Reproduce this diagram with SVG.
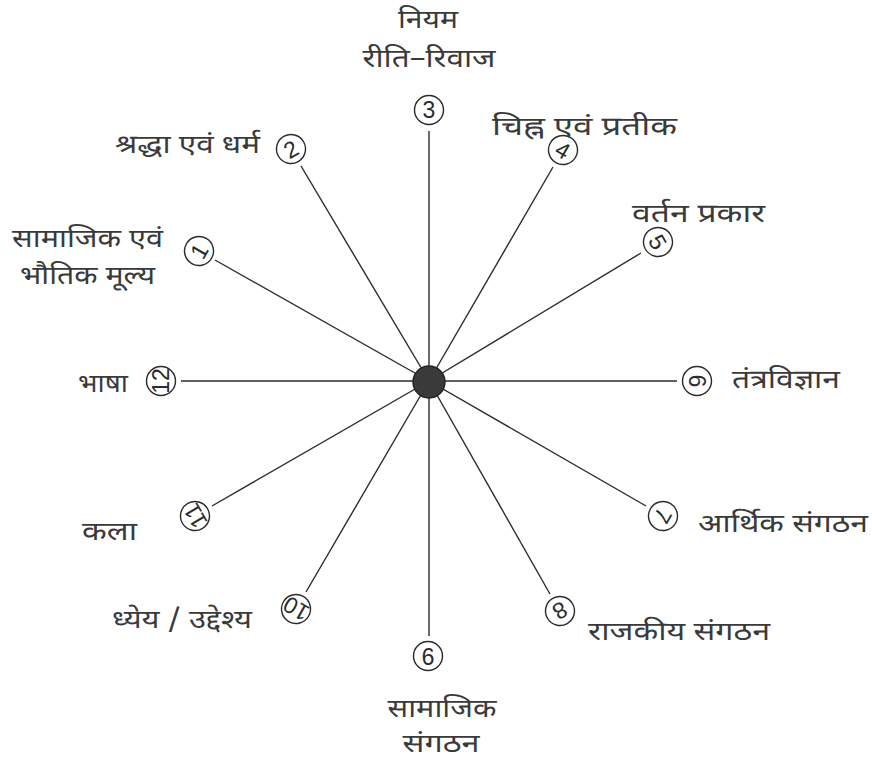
<svg xmlns="http://www.w3.org/2000/svg" width="872" height="766" viewBox="0 0 872 766">
<style>
.bg{fill:#ffffff}
.spoke{stroke:#2b2b2b;stroke-width:1.4;fill:none}
.num circle{fill:#ffffff;stroke:#2b2b2b;stroke-width:1.4}
.num text{font-family:"Liberation Sans",Arial,sans-serif;font-size:23px;fill:#2b2b2b;text-anchor:middle}
.lbl{font-family:"Noto Sans Devanagari","Noto Sans","Lohit Devanagari",sans-serif;font-size:26px;fill:#3a3a3a}
.mid{text-anchor:middle}
.end{text-anchor:end}
</style>
<rect class="bg" x="0" y="0" width="872" height="766"/>
<g id="connectors">
<line class="spoke" x1="429" y1="381" x2="429" y2="131"/>
<line class="spoke" x1="429" y1="381" x2="553" y2="167"/>
<line class="spoke" x1="429" y1="381" x2="641" y2="253"/>
<line class="spoke" x1="429" y1="381" x2="677" y2="381"/>
<line class="spoke" x1="429" y1="381" x2="646" y2="506"/>
<line class="spoke" x1="429" y1="381" x2="550" y2="594"/>
<line class="spoke" x1="429" y1="381" x2="429" y2="636"/>
<line class="spoke" x1="429" y1="381" x2="306" y2="592"/>
<line class="spoke" x1="429" y1="381" x2="212" y2="506"/>
<line class="spoke" x1="429" y1="381" x2="181" y2="381"/>
<line class="spoke" x1="429" y1="381" x2="215" y2="260"/>
<line class="spoke" x1="429" y1="381" x2="301" y2="166"/>
</g>
<g id="hub"><circle cx="429" cy="382" r="16" fill="#3a3a3a" stroke="#222" stroke-width="1.4"/></g>
<g id="n3"><g class="num" transform="translate(429,110) rotate(0)"><circle r="14.5"/><text y="8.3">3</text></g>
<text class="lbl mid" x="428" y="28" textLength="60" lengthAdjust="spacingAndGlyphs">नियम</text><text class="lbl mid" x="429" y="67" textLength="133" lengthAdjust="spacingAndGlyphs">रीति–रिवाज</text></g>
<g id="n4"><g class="num" transform="translate(563,150) rotate(30)"><circle r="14.5"/><text y="8.3">4</text></g>
<text class="lbl" x="492" y="135" textLength="185" lengthAdjust="spacingAndGlyphs">चिह्न एवं प्रतीक</text></g>
<g id="n5"><g class="num" transform="translate(658,242) rotate(60)"><circle r="14.5"/><text y="8.3">5</text></g>
<text class="lbl" x="632" y="222" textLength="133" lengthAdjust="spacingAndGlyphs">वर्तन प्रकार</text></g>
<g id="n6"><g class="num" transform="translate(697,381) rotate(90)"><circle r="14.5"/><text y="8.3">6</text></g>
<text class="lbl" x="732" y="388" textLength="108" lengthAdjust="spacingAndGlyphs">तंत्रविज्ञान</text></g>
<g id="n7"><g class="num" transform="translate(663,516) rotate(120)"><circle r="14.5"/><text y="8.3">7</text></g>
<text class="lbl" x="698" y="532" textLength="170" lengthAdjust="spacingAndGlyphs">आर्थिक संगठन</text></g>
<g id="n8"><g class="num" transform="translate(560,611) rotate(150)"><circle r="14.5"/><text y="8.3">8</text></g>
<text class="lbl" x="588" y="640" textLength="182" lengthAdjust="spacingAndGlyphs">राजकीय संगठन</text></g>
<g id="n9"><g class="num" transform="translate(428,656) rotate(180)"><circle r="14.5"/><text y="8.3">9</text></g>
<text class="lbl mid" x="442" y="717" textLength="109" lengthAdjust="spacingAndGlyphs">सामाजिक</text><text class="lbl mid" x="441" y="752" textLength="77" lengthAdjust="spacingAndGlyphs">संगठन</text></g>
<g id="n10"><g class="num" transform="translate(296,609) rotate(210)"><circle r="14.5"/><text y="8.3">10</text></g>
<text class="lbl" x="112" y="628" textLength="140" lengthAdjust="spacingAndGlyphs">ध्येय / उद्देश्य</text></g>
<g id="n11"><g class="num" transform="translate(195,516) rotate(240)"><circle r="14.5"/><text y="8.3">11</text></g>
<text class="lbl" x="82" y="540" textLength="55" lengthAdjust="spacingAndGlyphs">कला</text></g>
<g id="n12"><g class="num" transform="translate(161,381) rotate(270)"><circle r="14.5"/><text y="8.3">12</text></g>
<text class="lbl" x="78" y="392" textLength="50" lengthAdjust="spacingAndGlyphs">भाषा</text></g>
<g id="n1"><g class="num" transform="translate(199,251) rotate(300)"><circle r="14.5"/><text y="8.3">1</text></g>
<text class="lbl" x="12" y="247" textLength="151" lengthAdjust="spacingAndGlyphs">सामाजिक एवं</text><text class="lbl" x="20" y="284" textLength="135" lengthAdjust="spacingAndGlyphs">भौतिक मूल्य</text></g>
<g id="n2"><g class="num" transform="translate(291,149) rotate(330)"><circle r="14.5"/><text y="8.3">2</text></g>
<text class="lbl" x="115" y="153" textLength="145" lengthAdjust="spacingAndGlyphs">श्रद्धा एवं धर्म</text></g>
</svg>
